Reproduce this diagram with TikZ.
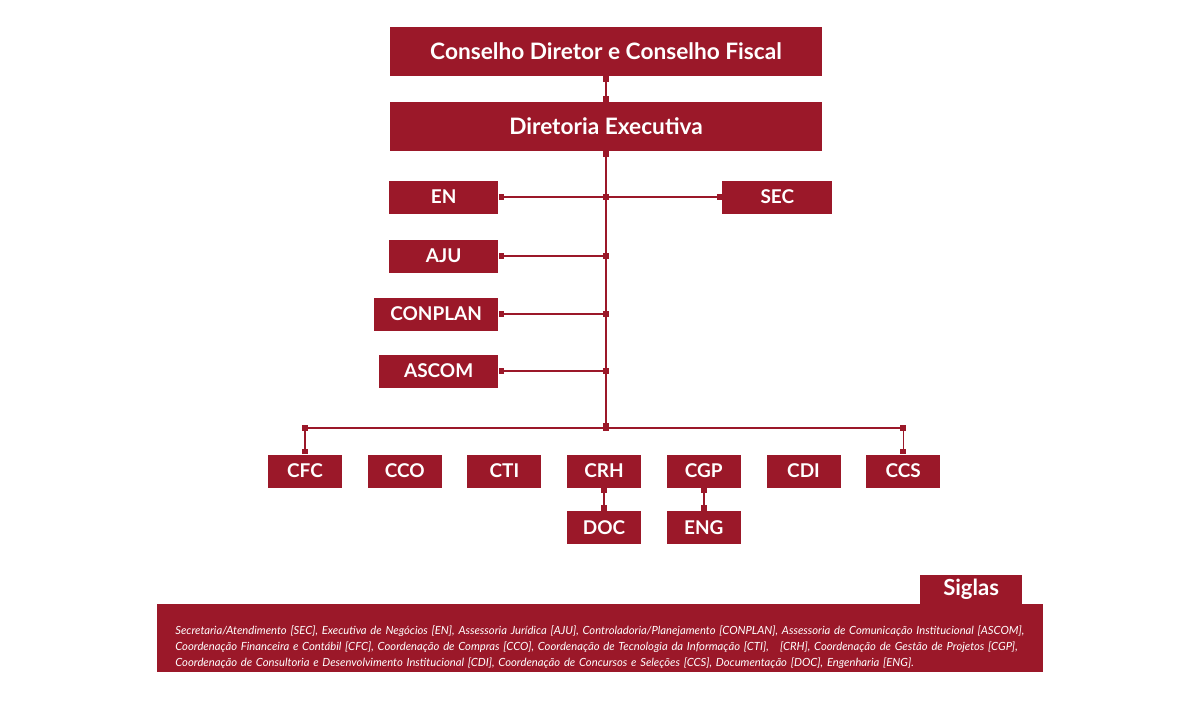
\documentclass[tikz,border=0pt]{standalone}
\usepackage{fontspec}
\setmainfont{Lato}
\usetikzlibrary{arrows.meta, positioning}
\definecolor{vinho}{RGB}{155,24,41}

\begin{document}
\begin{tikzpicture}[
  x=0.02cm, y=-0.02cm,
  box/.style={fill=vinho, text=white, inner sep=0pt, minimum height=0.66cm,
    font=\bfseries\fontsize{10.8}{13}\selectfont},
  big/.style={box, minimum width=8.66cm, minimum height=0.98cm,
    font=\bfseries\fontsize{12.9}{15}\selectfont},
  unit/.style={box, minimum width=1.48cm},
  link/.style={draw=vinho, line width=0.8pt},
  tip/.style={-{Square[length=1.1mm,width=1.1mm]}},
  tips/.style={{Square[length=1.1mm,width=1.1mm]}-{Square[length=1.1mm,width=1.1mm]}},
  junction/.style={fill=vinho, inner sep=0pt, minimum size=1.2mm}]

  \useasboundingbox (0,0) rectangle (1200,700);

  \node[big] (conselho) at (606,51.5) {Conselho Diretor e Conselho Fiscal};
  \node[big] (diretoria) at (606,126.5) {Diretoria Executiva};

  \node[box, minimum width=2.18cm, anchor=east] (EN) at (498.5,197) {EN};
  \node[box, minimum width=2.18cm, anchor=east] (AJU) at (498.5,256) {AJU};
  \node[box, minimum width=2.48cm, anchor=east] (CONPLAN) at (498.5,314) {CONPLAN};
  \node[box, minimum width=2.38cm, anchor=east] (ASCOM) at (498.5,371) {ASCOM};
  \node[box, minimum width=2.2cm, anchor=west] (SEC) at (722,197) {SEC};

  \foreach \name [count=\i from 0] in {CFC,CCO,CTI,CRH,CGP,CDI,CCS}
    \node[unit] (\name) at ({305+99.7*\i},471) {\name};
  \node[unit, below=0.46cm of CRH] (DOC) {DOC};
  \node[unit, below=0.46cm of CGP] (ENG) {ENG};

  % junctions on the trunk and on the bus
  \node[junction] (jEN) at (606,197) {};
  \node[junction] (jAJU) at (606,256) {};
  \node[junction] (jCONPLAN) at (606,314) {};
  \node[junction] (jASCOM) at (606,371) {};
  \node[junction] (jbus) at (606,428) {};
  \node[junction] (jleft) at (CFC |- jbus) {};
  \node[junction] (jright) at (CCS |- jbus) {};

  \draw[link, tips] (conselho.south) -- (diretoria.north);
  \draw[link, tips] (diretoria.south) -- (jbus.center);
  \draw[link, tips] (EN.east) -- (SEC.west);
  \foreach \name in {AJU,CONPLAN,ASCOM}
    \draw[link, tip] (j\name.center) -- (\name.east);
  \draw[link] (jleft.center) -- (jright.center);
  \draw[link, tip] (jleft.center) -- (CFC.north);
  \draw[link, tip] (jright.center) -- (CCS.north);
  \draw[link, tips] (CRH.south) -- (DOC.north);
  \draw[link, tips] (CGP.south) -- (ENG.north);

  % legenda
  \node[fill=vinho, text=white, anchor=north west, text width=17cm,
    inner xsep=0.36cm, inner ysep=0pt, minimum height=1.36cm, align=left,
    font=\itshape\fontsize{6.4}{9.07}\selectfont] (legenda) at (157,604)
    {\rule{0pt}{15pt}Secretaria/Atendimento [SEC], Executiva de Negócios [EN], Assessoria Jurídica [AJU], Controladoria/Planejamento [CONPLAN], Assessoria de Comunicação Institucional [ASCOM],\\
     Coordenação Financeira e Contábil [CFC], Coordenação de Compras [CCO], Coordenação de Tecnologia da Informação [CTI], \ \ [CRH], Coordenação de Gestão de Projetos [CGP],\\
     Coordenação de Consultoria e Desenvolvimento Institucional [CDI], Coordenação de Concursos e Seleções [CCS], Documentação [DOC], Engenharia [ENG].};
  \node[box, minimum width=2.04cm, minimum height=0.58cm,
    font=\bfseries\fontsize{12.6}{15}\selectfont,
    above left=0pt and 0.42cm of legenda.north east] (siglas) {Siglas};
\end{tikzpicture}
\end{document}
